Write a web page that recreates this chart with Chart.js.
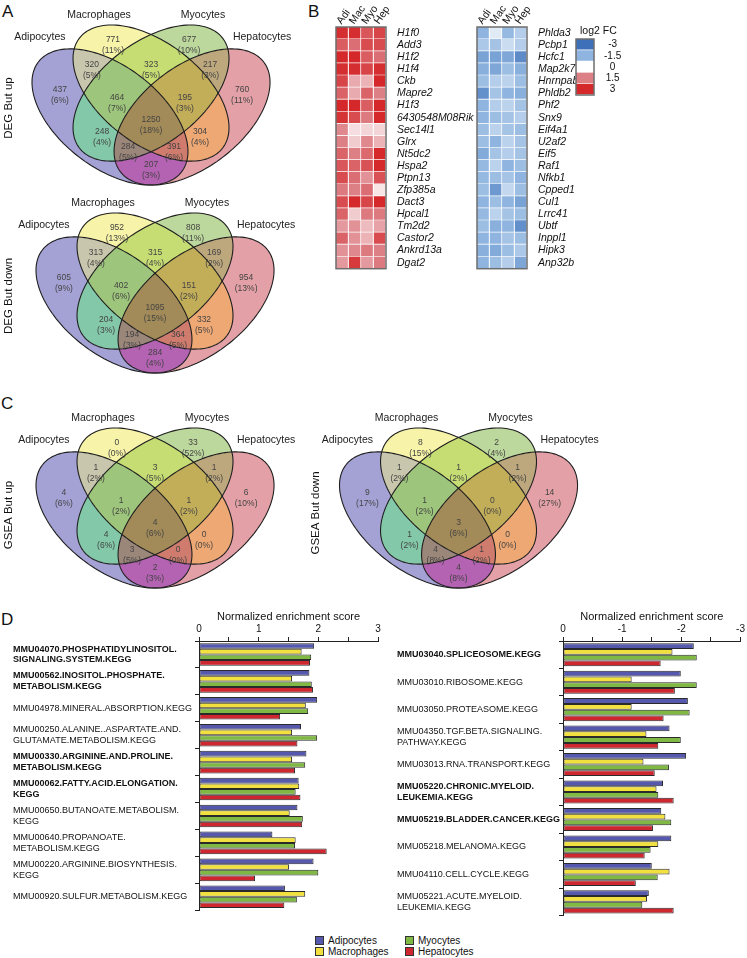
<!DOCTYPE html>
<html>
<head>
<meta charset="utf-8">
<script src="https://cdn.jsdelivr.net/npm/chart.js@4.4.1/dist/chart.umd.min.js"></script>
<style>
  html, body { margin: 0; padding: 0; background: #fff; }
  #page { position: relative; width: 747px; height: 958px; overflow: hidden; font-family: Arial, "Liberation Sans", sans-serif; }
  #page canvas { position: absolute; }
  .panel { position: absolute; font-size: 17px; line-height: 1; color: #111; }
  #legend { position: absolute; left: 315px; top: 935px; display: grid; grid-template-rows: 11px 11px; grid-auto-flow: column; grid-auto-columns: 90px; font-size: 10px; color: #111; }
  .li { display: flex; align-items: center; }
  .sw { width: 7px; height: 7px; border: 1px solid #333; margin-right: 4px; }
</style>
</head>
<body>
<div id="page">
  <div class="panel" style="left:2px;top:3px">A</div>
  <div class="panel" style="left:308px;top:3px">B</div>
  <div class="panel" style="left:1px;top:395px">C</div>
  <div class="panel" style="left:1px;top:611px">D</div>
  <div id="legend"></div>
</div>
<script>
const FONT = 'Arial, "Liberation Sans", sans-serif';
Chart.defaults.font.family = FONT;
Chart.defaults.color = '#111';

//==========Data===========
const setNames = ['Adipocytes', 'Macrophages', 'Myocytes', 'Hepatocytes'];
// regions: A=Adipocytes, M=Macrophages, Y=Myocytes, H=Hepatocytes
const regionKeys = ['A', 'M', 'Y', 'H', 'AM', 'MY', 'YH', 'AMY', 'MYH', 'AMYH', 'AY', 'MH', 'AYH', 'AMH', 'AH'];

const degUpCounts = [437, 771, 677, 760, 320, 323, 217, 464, 195, 1250, 248, 304, 284, 391, 207];
const degUpPct = [6, 11, 10, 11, 5, 5, 3, 7, 3, 18, 4, 4, 5, 6, 3];
const degDownCounts = [605, 952, 808, 954, 313, 315, 169, 402, 151, 1095, 204, 332, 194, 364, 284];
const degDownPct = [9, 13, 11, 13, 4, 4, 2, 6, 2, 15, 3, 5, 3, 5, 4];
const gseaUpCounts = [4, 0, 33, 6, 1, 3, 1, 1, 1, 4, 4, 0, 3, 0, 2];
const gseaUpPct = [6, 0, 52, 10, 2, 5, 2, 2, 2, 6, 6, 0, 5, 0, 3];
const gseaDownCounts = [9, 8, 2, 14, 1, 1, 1, 1, 0, 3, 1, 0, 4, 1, 4];
const gseaDownPct = [17, 15, 4, 27, 2, 2, 2, 2, 0, 6, 2, 0, 8, 2, 8];

const heatCols = ['Adi', 'Mac', 'Myo', 'Hep'];
const upGenes = ['H1f0', 'Add3', 'H1f2', 'H1f4', 'Ckb', 'Mapre2', 'H1f3', '6430548M08Rik', 'Sec14l1', 'Glrx',
  'Nt5dc2', 'Hspa2', 'Ptpn13', 'Zfp385a', 'Dact3', 'Hpcal1', 'Tm2d2', 'Castor2', 'Ankrd13a', 'Dgat2'];
const upAdi = [2.9, 2.1, 3.0, 2.9, 2.5, 2.0, 3.0, 2.8, 1.4, 1.5, 2.0, 2.2, 2.4, 1.6, 2.4, 2.0, 1.2, 2.0, 1.3, 1.2];
const upMac = [2.9, 1.8, 3.0, 2.9, 1.0, 1.0, 3.0, 2.4, 0.4, 0.6, 1.5, 2.0, 1.8, 1.5, 3.0, 0.6, 1.3, 1.3, 1.4, 2.7];
const upMyo = [2.2, 2.4, 2.1, 2.5, 0.9, 2.0, 2.1, 1.6, 0.5, 1.4, 1.9, 2.3, 1.3, 1.8, 2.5, 1.6, 0.8, 0.9, 1.6, 1.2];
const upHep = [2.5, 2.4, 1.8, 2.9, 3.0, 1.5, 3.0, 3.0, 0.5, 0.9, 3.0, 3.0, 2.3, 0.3, 3.0, 1.6, 1.1, 2.4, 1.5, 1.6];

const downGenes = ['Phlda3', 'Pcbp1', 'Hcfc1', 'Map2k7', 'Hnrnpab', 'Phldb2', 'Phf2', 'Snx9', 'Eif4a1', 'U2af2',
  'Eif5', 'Raf1', 'Nfkb1', 'Cpped1', 'Cul1', 'Lrrc41', 'Ubtf', 'Inppl1', 'Hipk3', 'Anp32b'];
const downAdi = [-1.5, -1.1, -1.9, -1.6, -1.3, -2.3, -1.5, -1.5, -1.3, -1.3, -1.7, -1.4, -1.4, -1.3, -1.5, -1.4, -1.3, -1.5, -1.6, -1.5];
const downMac = [-0.4, -1.2, -1.9, -1.8, -1.0, -1.2, -1.0, -1.3, -0.9, -1.5, -1.2, -0.9, -1.3, -2.1, -1.3, -0.9, -1.6, -1.5, -1.7, -1.3];
const downMyo = [-1.4, -0.7, -1.8, -1.3, -0.9, -1.5, -0.9, -1.2, -1.2, -0.9, -1.0, -1.5, -1.2, -0.8, -1.5, -1.2, -1.5, -1.2, -1.3, -1.0];
const downHep = [-1.0, -1.0, -2.4, -1.6, -1.3, -1.6, -1.2, -1.0, -1.3, -1.2, -1.2, -1.3, -1.5, -1.3, -1.9, -1.3, -2.3, -1.3, -1.1, -1.8];

const legendTicks = [-3, -1.5, 0, 1.5, 3];

const nesUpTerms = [
  ['MMU04070.PHOSPHATIDYLINOSITOL.', 'SIGNALING.SYSTEM.KEGG'],
  ['MMU00562.INOSITOL.PHOSPHATE.', 'METABOLISM.KEGG'],
  'MMU04978.MINERAL.ABSORPTION.KEGG',
  ['MMU00250.ALANINE..ASPARTATE.AND.', 'GLUTAMATE.METABOLISM.KEGG'],
  ['MMU00330.ARGININE.AND.PROLINE.', 'METABOLISM.KEGG'],
  ['MMU00062.FATTY.ACID.ELONGATION.', 'KEGG'],
  ['MMU00650.BUTANOATE.METABOLISM.', 'KEGG'],
  ['MMU00640.PROPANOATE.', 'METABOLISM.KEGG'],
  ['MMU00220.ARGININE.BIOSYNTHESIS.', 'KEGG'],
  'MMU00920.SULFUR.METABOLISM.KEGG'
];
const nesUpBold = [true, true, false, false, true, true, false, false, false, false];
const adiNesUp = [1.93, 1.85, 1.98, 1.71, 1.80, 1.67, 1.65, 1.23, 1.92, 1.44];
const macNesUp = [1.72, 1.56, 1.79, 1.56, 1.56, 1.68, 1.52, 1.62, 1.51, 1.78];
const myoNesUp = [1.88, 1.89, 1.83, 1.98, 1.78, 1.62, 1.74, 1.61, 2.00, 1.64];
const hepNesUp = [1.86, 1.91, 1.36, 1.65, 1.61, 1.70, 1.73, 2.14, 0.94, 1.43];

const nesDownTerms = [
  'MMU03040.SPLICEOSOME.KEGG',
  'MMU03010.RIBOSOME.KEGG',
  'MMU03050.PROTEASOME.KEGG',
  ['MMU04350.TGF.BETA.SIGNALING.', 'PATHWAY.KEGG'],
  'MMU03013.RNA.TRANSPORT.KEGG',
  ['MMU05220.CHRONIC.MYELOID.', 'LEUKEMIA.KEGG'],
  'MMU05219.BLADDER.CANCER.KEGG',
  'MMU05218.MELANOMA.KEGG',
  'MMU04110.CELL.CYCLE.KEGG',
  ['MMU05221.ACUTE.MYELOID.', 'LEUKEMIA.KEGG']
];
const nesDownBold = [true, false, false, false, false, true, true, false, false, false];
const adiNesDown = [-2.21, -1.99, -2.11, -1.80, -2.08, -1.69, -1.66, -1.83, -1.50, -1.45];
const macNesDown = [-1.85, -1.16, -1.16, -1.41, -1.36, -1.58, -1.73, -1.61, -1.80, -1.42];
const myoNesDown = [-2.26, -2.26, -2.14, -1.99, -1.79, -1.61, -1.83, -1.48, -1.60, -1.34];
const hepNesDown = [-1.65, -1.89, -1.70, -1.61, -1.55, -1.87, -1.52, -1.38, -1.23, -1.87];

//==========Styles===========
const seriesColors = ['#5558ad', '#f1e03e', '#7fb843', '#cf272f'];
const regionColors = ['#a4a2d5', '#f7f3a8', '#bdd89c', '#e3a1a7', '#c8c6ac', '#c6dd73', '#bda87d', '#9dc57b',
  '#c2ad59', '#a28b58', '#83c8a8', '#eea873', '#9b867a', '#cf7b6d', '#b462b2'];

// venn geometry (unit square, 4-ellipse layout)
const ellipses = [
  { k: 'A', x: 0.35, y: 0.47, rot: 135 },
  { k: 'M', x: 0.50, y: 0.57, rot: 135 },
  { k: 'Y', x: 0.50, y: 0.57, rot: 45 },
  { k: 'H', x: 0.65, y: 0.47, rot: 45 }
];
const EA = 0.35, EB = 0.20;
const regionPos = [[0.167, 0.562], [0.361, 0.771], [0.639, 0.771], [0.833, 0.562], [0.284, 0.667], [0.5, 0.667],
  [0.716, 0.667], [0.376, 0.528], [0.624, 0.528], [0.5, 0.436], [0.321, 0.386], [0.679, 0.386], [0.416, 0.323],
  [0.584, 0.323], [0.5, 0.248]];
const setLabelPos = [[0.094, 0.805], [0.31, 0.897], [0.69, 0.897], [0.906, 0.805]];
const VX0 = 0.065, VY0 = 0.855, PX0 = 32, PY0 = 25, SX = 273.6, SY = 238.8, YW = 20;

const page = document.getElementById('page');
function makeCanvas(left, top, w, h) {
    let c = document.createElement('canvas');
    c.width = w; c.height = h;
    c.style.left = left + 'px'; c.style.top = top + 'px';
    c.style.width = w + 'px'; c.style.height = h + 'px';
    page.appendChild(c);
    return c;
}

function ellipsePath(ctx, sx, sy, e) {
    const r = e.rot * Math.PI / 180, c = Math.cos(r), s = Math.sin(r);
    ctx.beginPath();
    for (let k = 0; k <= 160; k++) {
        const t = k / 160 * 2 * Math.PI;
        const ux = EA * Math.cos(t), uy = EB * Math.sin(t);
        const px = sx.getPixelForValue(e.x + ux * c - uy * s);
        const py = sy.getPixelForValue(e.y + ux * s + uy * c);
        if (k) ctx.lineTo(px, py); else ctx.moveTo(px, py);
    }
    ctx.closePath();
}

const vennPlugin = {
    id: 'venn',
    beforeDatasetsDraw(chart, args, o) {
        const { ctx, scales: { x, y } } = chart;
        regionKeys.forEach((key, i) => {
            ctx.save();
            ellipses.forEach(e => {
                ellipsePath(ctx, x, y, e);
                if (key.includes(e.k)) {
                    ctx.clip();
                } else {
                    ctx.rect(0, 0, chart.width, chart.height);
                    ctx.clip('evenodd');
                }
            });
            ctx.fillStyle = regionColors[i];
            ctx.fillRect(0, 0, chart.width, chart.height);
            ctx.restore();
        });
        ctx.save();
        ctx.strokeStyle = '#1e1e1e';
        ctx.lineWidth = 1.1;
        ellipses.forEach(e => { ellipsePath(ctx, x, y, e); ctx.stroke(); });
        ctx.restore();
    },
    afterDatasetsDraw(chart, args, o) {
        const { ctx, scales: { x, y } } = chart;
        ctx.save();
        ctx.textAlign = 'center';
        ctx.textBaseline = 'middle';
        ctx.fillStyle = '#222';
        ctx.font = '10.5px ' + FONT;
        setNames.forEach((n, i) => {
            ctx.fillText(n, x.getPixelForValue(setLabelPos[i][0]), y.getPixelForValue(setLabelPos[i][1]));
        });
        ctx.fillStyle = '#444';
        ctx.font = '8.5px ' + FONT;
        chart.getDatasetMeta(0).data.forEach((pt, i) => {
            ctx.fillText(String(o.counts[i]), pt.x, pt.y - 5);
            ctx.fillText('(' + o.pcts[i] + '%)', pt.x, pt.y + 5.5);
        });
        ctx.restore();
    }
};

function vennChart(box, off, title, counts, pcts) {
    const canvas = makeCanvas(box.left, box.top, box.w, box.h);
    const xmin = VX0 - (off.x + PX0 - box.left - YW) / SX;
    const ymax = VY0 + (off.y + PY0 - box.top) / SY;
    new Chart(canvas, {
        type: 'scatter',
        data: { datasets: [{ data: regionPos.map(p => ({ x: p[0], y: p[1] })), pointRadius: 0 }] },
        options: {
            responsive: false, animation: false,
            layout: { padding: 0 },
            plugins: { legend: { display: false }, tooltip: { enabled: false }, venn: { counts: counts, pcts: pcts } },
            scales: {
                x: { type: 'linear', display: false, min: xmin, max: xmin + (box.w - YW) / SX },
                y: {
                    type: 'linear', min: ymax - box.h / SY, max: ymax,
                    grid: { display: false }, border: { display: false }, ticks: { display: false },
                    title: { display: true, text: title, font: { size: 11.5 }, color: '#111', padding: { top: 2, bottom: 0 } },
                    afterFit: s => { s.width = YW; }
                }
            }
        },
        plugins: [vennPlugin]
    });
}

vennChart({ left: 0, top: 0, w: 305, h: 216 }, { x: 0, y: 0 }, 'DEG But up', degUpCounts, degUpPct);
vennChart({ left: 0, top: 188, w: 305, h: 216 }, { x: 4, y: 188 }, 'DEG But down', degDownCounts, degDownPct);
vennChart({ left: 0, top: 403, w: 305, h: 224 }, { x: 4, y: 403 }, 'GSEA But up', gseaUpCounts, gseaUpPct);
vennChart({ left: 307, top: 403, w: 310, h: 220 }, { x: 307.5, y: 403 }, 'GSEA But down', gseaDownCounts, gseaDownPct);

//==========Heatmap===========
function mix(c1, c2, f) {
    return c1.map((v, i) => Math.round(v + (c2[i] - v) * f));
}
function heatColor(v) {
    const w = [255, 255, 255];
    const mid = v >= 0 ? [221, 128, 134] : [142, 180, 223];
    const end = v >= 0 ? [212, 40, 42] : [62, 111, 185];
    const a = Math.min(Math.abs(v), 3);
    const c = a <= 1.5 ? mix(w, mid, a / 1.5) : mix(mid, end, (a - 1.5) / 1.5);
    return 'rgb(' + c.join(',') + ')';
}

const heatDeco = {
    id: 'heatDeco',
    afterDatasetsDraw(chart, args, o) {
        const { ctx, chartArea: a, scales: { x } } = chart;
        ctx.save();
        ctx.strokeStyle = '#6e6e6e';
        ctx.lineWidth = 1.5;
        ctx.strokeRect(a.left, a.top, a.right - a.left, a.bottom - a.top);
        ctx.fillStyle = '#111';
        ctx.font = '10.5px ' + FONT;
        ctx.textBaseline = 'middle';
        ctx.textAlign = 'left';
        (o.cols || []).forEach((c, j) => {
            ctx.save();
            ctx.translate(x.getPixelForValue(j + 0.5) - 3, a.top - 4);
            ctx.rotate(-55 * Math.PI / 180);
            ctx.fillText(c, 0, 0);
            ctx.restore();
        });
        if (o.title) ctx.fillText(o.title, a.left + 4, a.top - 8);
        ctx.restore();
    }
};

function heatmap(left, genes, cols) {
    const canvas = makeCanvas(left, 0, 147, 278);
    new Chart(canvas, {
        type: 'bar',
        data: {
            labels: genes,
            datasets: cols.map((vals, j) => ({
                label: heatCols[j],
                data: vals.map(() => 1),
                backgroundColor: vals.map(heatColor),
                borderColor: '#ffffff',
                borderWidth: { top: 0, left: 0, right: 1, bottom: 1 },
                borderSkipped: false,
                barPercentage: 1, categoryPercentage: 1
            }))
        },
        options: {
            indexAxis: 'y', responsive: false, animation: false,
            layout: { padding: { top: 27, left: 2, bottom: 2, right: 0 } },
            plugins: { legend: { display: false }, tooltip: { enabled: false }, heatDeco: { cols: heatCols } },
            scales: {
                x: { stacked: true, min: 0, max: 4, display: false },
                y: {
                    stacked: true, position: 'right',
                    grid: { display: false }, border: { display: false },
                    ticks: { font: { size: 10.5, style: 'italic' }, color: '#111', padding: 3, autoSkip: false },
                    afterFit: s => { s.width = 95; }
                }
            }
        },
        plugins: [heatDeco]
    });
}
heatmap(334, upGenes, [upAdi, upMac, upMyo, upHep]);
heatmap(475, downGenes, [downAdi, downMac, downMyo, downHep]);

// colour key
new Chart(makeCanvas(574, 22, 48, 81), {
    type: 'bar',
    data: {
        labels: legendTicks.map(String),
        datasets: [{
            data: legendTicks.map(() => 1),
            backgroundColor: legendTicks.map(heatColor),
            borderColor: '#ffffff',
            borderWidth: { top: 0, left: 0, right: 0, bottom: 1 },
            borderSkipped: false,
            barPercentage: 1, categoryPercentage: 1
        }]
    },
    options: {
        indexAxis: 'y', responsive: false, animation: false,
        layout: { padding: { top: 17, left: 2, bottom: 2, right: 0 } },
        plugins: { legend: { display: false }, tooltip: { enabled: false }, heatDeco: { title: 'log2 FC' } },
        scales: {
            x: { min: 0, max: 1, display: false },
            y: {
                position: 'right', grid: { display: false }, border: { display: false },
                ticks: { font: { size: 10 }, color: '#111', padding: 2, crossAlign: 'center', autoSkip: false },
                afterFit: s => { s.width = 28; }
            }
        }
    },
    plugins: [heatDeco]
});

//==========NES bars===========
function nesChart(box, terms, bold, values, xmin, xmax, reverse, padLeft, padRight, axisW) {
    const canvas = makeCanvas(box.left, box.top, box.w, box.h);
    new Chart(canvas, {
        type: 'bar',
        data: {
            labels: terms,
            datasets: values.map((vals, i) => ({
                label: setNames[i],
                data: vals,
                backgroundColor: seriesColors[i],
                borderColor: '#2a2a2a',
                borderWidth: 1,
                borderSkipped: false,
                barPercentage: 1, categoryPercentage: 0.84
            }))
        },
        options: {
            indexAxis: 'y', responsive: false, animation: false,
            layout: { padding: { top: 0, left: padLeft, right: padRight, bottom: 5 } },
            plugins: { legend: { display: false }, tooltip: { enabled: false } },
            scales: {
                x: {
                    position: 'top', min: xmin, max: xmax, reverse: reverse,
                    grid: { drawOnChartArea: false, tickLength: 4, color: '#222' },
                    border: { color: '#222', width: 1 },
                    ticks: { stepSize: 0.5, font: { size: 10 }, color: '#111', padding: 2,
                        callback: v => Number.isInteger(v) ? String(v) : '' },
                    title: { display: true, text: 'Normalized enrichment score', font: { size: 11 }, color: '#111', padding: { top: 10, bottom: 0 } },
                    afterFit: s => { s.height = 41; }
                },
                y: {
                    grid: { offset: true, drawOnChartArea: false, tickLength: 4, color: '#222' },
                    border: { color: '#222', width: 1 },
                    ticks: {
                        autoSkip: false, crossAlign: 'far', color: '#111', padding: 4,
                        font: c => ({ size: 9, weight: bold[c.index] ? 'bold' : 'normal', lineHeight: 1.2 })
                    },
                    afterFit: s => { s.width = axisW; }
                }
            }
        }
    });
}
nesChart({ left: 0, top: 600, w: 385, h: 325 }, nesUpTerms, nesUpBold,
    [adiNesUp, macNesUp, myoNesUp, hepNesUp], 0, 3, false, 13, 7, 186);
nesChart({ left: 385, top: 600, w: 362, h: 325 }, nesDownTerms, nesDownBold,
    [adiNesDown, macNesDown, myoNesDown, hepNesDown], -3, 0, true, 12, 5, 166);

// series legend
const legend = document.getElementById('legend');
setNames.forEach((n, i) => {
    let item = document.createElement('div');
    item.className = 'li';
    item.innerHTML = '<span class="sw" style="background:' + seriesColors[i] + '"></span>' + n;
    legend.appendChild(item);
});
</script>
</body>
</html>
